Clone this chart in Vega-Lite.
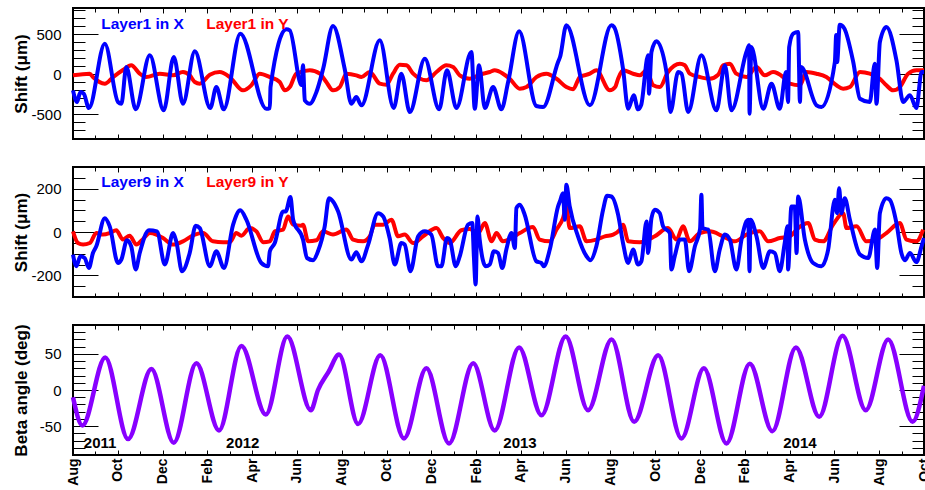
{
"$schema": "https://vega.github.io/schema/vega-lite/v6.json",
"padding": {"left": 10, "top": 6, "right": 4, "bottom": 0},
"bounds": "flush",
"config": {
  "view": {"stroke": "black", "strokeWidth": 2},
  "font": "Liberation Sans",
  "axis": {"labelFont": "Liberation Sans", "titleFont": "Liberation Sans", "labelColor": "black", "titleColor": "black", "tickColor": "black", "tickWidth": 1, "domain": false, "grid": false, "labelFlush": false, "labelOverlap": false}
},
"datasets": {
"l1x": [{"m":0,"v":-204},{"m":0.18,"v":-350},{"m":0.33,"v":-225},{"m":0.48,"v":-246},{"m":0.71,"v":-425},{"m":1.42,"v":379},{"m":2.01,"v":-350},{"m":2.16,"v":-371},{"m":2.38,"v":88},{"m":2.8,"v":-441},{"m":3.43,"v":234},{"m":4.05,"v":-454},{"m":4.5,"v":213},{"m":4.91,"v":-371},{"m":5.44,"v":284},{"m":6.13,"v":-425},{"m":6.4,"v":-163},{"m":6.73,"v":-441},{"m":7.47,"v":504},{"m":8.63,"v":-434},{"m":8.79,"v":-425},{"m":8.82,"v":-163},{"m":9.53,"v":559},{"m":9.68,"v":546},{"m":10.2,"v":-138},{"m":10.27,"v":109},{"m":10.35,"v":-329},{"m":10.57,"v":-371},{"m":10.87,"v":-225},{"m":11.17,"v":66},{"m":11.61,"v":600},{"m":12.13,"v":66},{"m":12.43,"v":-371},{"m":12.65,"v":-288},{"m":12.88,"v":-391},{"m":13.7,"v":421},{"m":14.32,"v":-425},{"m":14.66,"v":4},{"m":15.04,"v":-475},{"m":15.71,"v":191},{"m":16.35,"v":-441},{"m":16.7,"v":46},{"m":17.12,"v":-425},{"m":17.79,"v":275},{"m":17.94,"v":-434},{"m":18.13,"v":109},{"m":18.39,"v":-425},{"m":18.76,"v":-163},{"m":19.13,"v":-441},{"m":19.43,"v":-100},{"m":19.92,"v":534},{"m":20.69,"v":-400},{"m":20.99,"v":-413},{"m":21.66,"v":150},{"m":21.75,"v":213},{"m":22.03,"v":609},{"m":23.08,"v":-391},{"m":24.04,"v":609},{"m":24.16,"v":588},{"m":24.56,"v":66},{"m":24.79,"v":-434},{"m":25.04,"v":-266},{"m":25.23,"v":-441},{"m":25.37,"v":-388},{"m":25.68,"v":234},{"m":25.72,"v":-246},{"m":25.83,"v":275},{"m":26.05,"v":409},{"m":26.5,"v":25},{"m":26.68,"v":-475},{"m":27.02,"v":25},{"m":27.17,"v":4},{"m":27.47,"v":-475},{"m":28.06,"v":234},{"m":28.73,"v":-454},{"m":29.11,"v":109},{"m":29.4,"v":-454},{"m":30.07,"v":275},{"m":30.19,"v":359},{"m":30.21,"v":-496},{"m":30.29,"v":338},{"m":30.82,"v":-434},{"m":31.19,"v":-121},{"m":31.56,"v":-434},{"m":31.84,"v":25},{"m":31.93,"v":-350},{"m":31.98,"v":338},{"m":32.16,"v":504},{"m":32.38,"v":525},{"m":32.46,"v":-350},{"m":32.51,"v":88},{"m":33.2,"v":-391},{"m":33.42,"v":-413},{"m":34.02,"v":150},{"m":34.08,"v":488},{"m":34.12,"v":150},{"m":34.24,"v":616},{"m":34.43,"v":575},{"m":34.84,"v":150},{"m":35.14,"v":-309},{"m":35.58,"v":-350},{"m":35.8,"v":129},{"m":35.88,"v":-371},{"m":36.03,"v":400},{"m":36.32,"v":588},{"m":36.77,"v":171},{"m":37.07,"v":-350},{"m":37.37,"v":-266},{"m":37.66,"v":-425},{"m":37.89,"v":25},{"m":38,"v":25}],
"l1y": [{"m":0,"v":-16},{"m":0.75,"v":4},{"m":0.89,"v":-38},{"m":1.42,"v":-121},{"m":1.79,"v":-38},{"m":2.23,"v":50},{"m":2.6,"v":109},{"m":2.98,"v":4},{"m":3.27,"v":-38},{"m":3.87,"v":4},{"m":4.47,"v":-16},{"m":4.91,"v":25},{"m":5.21,"v":-16},{"m":5.44,"v":-100},{"m":5.66,"v":-121},{"m":6.11,"v":-9},{"m":6.55,"v":25},{"m":7.0,"v":-38},{"m":7.59,"v":-204},{"m":7.96,"v":-141},{"m":8.34,"v":4},{"m":8.79,"v":-38},{"m":9.23,"v":-100},{"m":9.46,"v":-204},{"m":9.68,"v":-163},{"m":9.97,"v":4},{"m":10.57,"v":46},{"m":11.02,"v":4},{"m":11.31,"v":-100},{"m":11.61,"v":-204},{"m":11.91,"v":-163},{"m":12.21,"v":4},{"m":12.65,"v":-16},{"m":12.88,"v":-38},{"m":13.25,"v":25},{"m":13.7,"v":-121},{"m":13.99,"v":-134},{"m":14.29,"v":4},{"m":14.59,"v":116},{"m":14.89,"v":109},{"m":15.19,"v":4},{"m":15.78,"v":-79},{"m":16.23,"v":25},{"m":16.67,"v":109},{"m":16.97,"v":88},{"m":17.27,"v":-16},{"m":17.72,"v":-59},{"m":18.16,"v":-9},{"m":18.61,"v":25},{"m":18.83,"v":46},{"m":19.2,"v":4},{"m":19.5,"v":-59},{"m":19.95,"v":-184},{"m":20.25,"v":-163},{"m":20.69,"v":-38},{"m":21.14,"v":4},{"m":21.59,"v":-59},{"m":22.03,"v":-163},{"m":22.33,"v":-191},{"m":22.63,"v":-38},{"m":23.08,"v":4},{"m":23.37,"v":46},{"m":23.97,"v":-204},{"m":24.21,"v":-163},{"m":24.34,"v":-59},{"m":24.56,"v":46},{"m":25.01,"v":4},{"m":25.31,"v":-16},{"m":25.61,"v":46},{"m":25.91,"v":-141},{"m":26.2,"v":-163},{"m":26.57,"v":25},{"m":27.1,"v":129},{"m":27.32,"v":109},{"m":27.54,"v":4},{"m":27.99,"v":-38},{"m":28.43,"v":-59},{"m":28.81,"v":-9},{"m":29.03,"v":109},{"m":29.33,"v":129},{"m":29.62,"v":4},{"m":30.07,"v":-38},{"m":30.52,"v":88},{"m":30.89,"v":-16},{"m":31.26,"v":25},{"m":31.71,"v":-38},{"m":32.01,"v":-121},{"m":32.46,"v":-141},{"m":32.75,"v":25},{"m":33.2,"v":4},{"m":33.64,"v":-38},{"m":34.09,"v":-141},{"m":34.39,"v":-184},{"m":34.69,"v":-163},{"m":35.14,"v":25},{"m":35.58,"v":4},{"m":36.03,"v":-59},{"m":36.32,"v":-141},{"m":36.62,"v":-204},{"m":36.92,"v":-163},{"m":37.29,"v":4},{"m":37.66,"v":46},{"m":38,"v":46}],
"l9x": [{"m":0,"v":-104},{"m":0.15,"v":-158},{"m":0.33,"v":-112},{"m":0.52,"v":-120},{"m":0.71,"v":-166},{"m":0.89,"v":-97},{"m":1.04,"v":-66},{"m":1.42,"v":64},{"m":1.64,"v":26},{"m":2.01,"v":-143},{"m":2.16,"v":-127},{"m":2.41,"v":-38},{"m":2.6,"v":-66},{"m":2.8,"v":-173},{"m":2.98,"v":-97},{"m":3.39,"v":8},{"m":3.75,"v":3},{"m":4.1,"v":-150},{"m":4.47,"v":-5},{"m":4.61,"v":-43},{"m":4.87,"v":-181},{"m":5.21,"v":-97},{"m":5.48,"v":29},{"m":5.66,"v":18},{"m":6.11,"v":-158},{"m":6.4,"v":-89},{"m":6.74,"v":-166},{"m":7.15,"v":34},{"m":7.47,"v":100},{"m":7.74,"v":57},{"m":8.41,"v":-143},{"m":8.71,"v":-158},{"m":8.79,"v":-89},{"m":9.01,"v":-51},{"m":9.38,"v":95},{"m":9.5,"v":95},{"m":9.71,"v":161},{"m":9.83,"v":57},{"m":10.27,"v":-35},{"m":10.45,"v":-120},{"m":10.72,"v":-130},{"m":10.94,"v":-89},{"m":11.24,"v":26},{"m":11.43,"v":156},{"m":11.61,"v":141},{"m":11.84,"v":95},{"m":12.43,"v":-127},{"m":12.65,"v":-93},{"m":12.88,"v":-135},{"m":13.18,"v":-58},{"m":13.62,"v":87},{"m":13.85,"v":72},{"m":14.14,"v":-28},{"m":14.37,"v":-150},{"m":14.66,"v":-51},{"m":14.81,"v":-58},{"m":15.07,"v":-181},{"m":15.41,"v":-20},{"m":15.71,"v":3},{"m":16.0,"v":-12},{"m":16.3,"v":-158},{"m":16.45,"v":-158},{"m":16.7,"v":-28},{"m":16.82,"v":-35},{"m":17.09,"v":-158},{"m":17.27,"v":-112},{"m":17.64,"v":34},{"m":17.83,"v":41},{"m":17.9,"v":-112},{"m":17.98,"v":-242},{"m":18.06,"v":72},{"m":18.16,"v":-35},{"m":18.43,"v":-158},{"m":18.61,"v":-150},{"m":18.79,"v":-89},{"m":18.98,"v":-97},{"m":19.17,"v":-166},{"m":19.35,"v":-81},{"m":19.58,"v":-5},{"m":19.73,"v":-74},{"m":19.8,"v":110},{"m":19.95,"v":126},{"m":20.17,"v":80},{"m":20.69,"v":-135},{"m":20.91,"v":-143},{"m":21.02,"v":-158},{"m":21.29,"v":-81},{"m":21.66,"v":118},{"m":21.74,"v":141},{"m":21.88,"v":179},{"m":21.96,"v":57},{"m":22.03,"v":218},{"m":22.18,"v":118},{"m":22.55,"v":-20},{"m":22.93,"v":-112},{"m":23.1,"v":-130},{"m":23.37,"v":-66},{"m":23.67,"v":103},{"m":23.85,"v":167},{"m":24.04,"v":164},{"m":24.34,"v":80},{"m":24.56,"v":-51},{"m":24.79,"v":-143},{"m":25.01,"v":-81},{"m":25.23,"v":-150},{"m":25.38,"v":-135},{"m":25.61,"v":49},{"m":25.68,"v":-97},{"m":25.83,"v":64},{"m":25.98,"v":103},{"m":26.2,"v":87},{"m":26.35,"v":26},{"m":26.65,"v":-5},{"m":26.72,"v":-173},{"m":26.87,"v":-112},{"m":27.1,"v":-35},{"m":27.32,"v":-35},{"m":27.51,"v":-181},{"m":27.77,"v":-66},{"m":28.0,"v":14},{"m":28.06,"v":172},{"m":28.11,"v":18},{"m":28.36,"v":11},{"m":28.66,"v":-181},{"m":28.88,"v":-81},{"m":29.11,"v":-12},{"m":29.33,"v":-35},{"m":29.62,"v":-173},{"m":29.85,"v":-35},{"m":30.07,"v":49},{"m":30.15,"v":57},{"m":30.21,"v":-181},{"m":30.25,"v":57},{"m":30.52,"v":-20},{"m":30.82,"v":-166},{"m":31.12,"v":-89},{"m":31.34,"v":-97},{"m":31.56,"v":-181},{"m":31.78,"v":-51},{"m":31.91,"v":26},{"m":31.93,"v":-173},{"m":32.08,"v":118},{"m":32.23,"v":118},{"m":32.31,"v":-97},{"m":32.38,"v":164},{"m":32.68,"v":-35},{"m":33.05,"v":-143},{"m":33.42,"v":-158},{"m":33.72,"v":-81},{"m":34.02,"v":149},{"m":34.12,"v":87},{"m":34.21,"v":202},{"m":34.31,"v":87},{"m":34.46,"v":156},{"m":34.69,"v":57},{"m":35.14,"v":-104},{"m":35.51,"v":-120},{"m":35.81,"v":11},{"m":35.91,"v":-166},{"m":36.03,"v":87},{"m":36.32,"v":156},{"m":36.47,"v":149},{"m":36.77,"v":41},{"m":36.99,"v":-97},{"m":37.15,"v":-130},{"m":37.37,"v":-97},{"m":37.66,"v":-139},{"m":37.89,"v":-66},{"m":38,"v":-28}],
"l9y": [{"m":0,"v":3},{"m":0.22,"v":-51},{"m":0.45,"v":-58},{"m":0.75,"v":-51},{"m":1.04,"v":-5},{"m":1.34,"v":-12},{"m":1.64,"v":-5},{"m":1.93,"v":8},{"m":2.23,"v":-35},{"m":2.53,"v":-17},{"m":2.83,"v":-58},{"m":3.13,"v":-32},{"m":3.43,"v":-5},{"m":3.72,"v":-12},{"m":4.02,"v":-28},{"m":4.47,"v":-58},{"m":4.91,"v":-43},{"m":5.44,"v":-12},{"m":5.81,"v":-5},{"m":6.25,"v":-43},{"m":6.7,"v":-47},{"m":7.0,"v":-47},{"m":7.29,"v":-5},{"m":7.52,"v":-17},{"m":7.89,"v":18},{"m":8.19,"v":3},{"m":8.49,"v":-47},{"m":8.79,"v":-43},{"m":9.01,"v":3},{"m":9.38,"v":11},{"m":9.6,"v":72},{"m":9.83,"v":34},{"m":10.2,"v":29},{"m":10.27,"v":34},{"m":10.5,"v":-43},{"m":10.87,"v":-38},{"m":11.17,"v":3},{"m":11.61,"v":-12},{"m":12.21,"v":11},{"m":12.51,"v":-35},{"m":12.95,"v":-43},{"m":13.25,"v":-20},{"m":13.47,"v":34},{"m":13.85,"v":34},{"m":14.22,"v":57},{"m":14.52,"v":-20},{"m":14.81,"v":-12},{"m":15.19,"v":-51},{"m":15.63,"v":-20},{"m":16.23,"v":18},{"m":16.53,"v":-28},{"m":16.82,"v":-51},{"m":17.34,"v":8},{"m":17.72,"v":14},{"m":18.09,"v":-5},{"m":18.39,"v":41},{"m":18.69,"v":-43},{"m":18.91,"v":-5},{"m":19.2,"v":-43},{"m":19.58,"v":-28},{"m":19.95,"v":-5},{"m":20.54,"v":23},{"m":20.84,"v":-35},{"m":21.29,"v":-43},{"m":21.59,"v":11},{"m":21.88,"v":64},{"m":22.03,"v":118},{"m":22.18,"v":18},{"m":22.63,"v":26},{"m":22.93,"v":-43},{"m":23.37,"v":-35},{"m":23.75,"v":-20},{"m":24.12,"v":-12},{"m":24.42,"v":11},{"m":24.56,"v":34},{"m":24.79,"v":-43},{"m":25.31,"v":-47},{"m":25.98,"v":-20},{"m":26.57,"v":18},{"m":26.95,"v":-35},{"m":27.24,"v":26},{"m":27.54,"v":-43},{"m":27.99,"v":-5},{"m":28.43,"v":3},{"m":29.03,"v":-20},{"m":29.55,"v":-43},{"m":30.07,"v":-12},{"m":30.67,"v":3},{"m":31.04,"v":-43},{"m":31.56,"v":-28},{"m":32.01,"v":-20},{"m":32.38,"v":18},{"m":32.83,"v":41},{"m":33.13,"v":-35},{"m":33.5,"v":-43},{"m":33.94,"v":34},{"m":34.39,"v":87},{"m":34.54,"v":18},{"m":34.99,"v":26},{"m":35.43,"v":-43},{"m":35.88,"v":-35},{"m":36.32,"v":-5},{"m":36.92,"v":41},{"m":37.22,"v":-35},{"m":37.66,"v":-43},{"m":37.96,"v":11}],
"beta": [{"m":0,"v":-10},{"m":0.42,"v":-49},{"m":1.44,"v":45},{"m":2.46,"v":-68},{"m":3.5,"v":29},{"m":4.5,"v":-73},{"m":5.51,"v":37},{"m":6.52,"v":-56},{"m":7.52,"v":61},{"m":8.61,"v":-34},{"m":9.57,"v":74},{"m":10.62,"v":-28},{"m":10.94,"v":0},{"m":11.41,"v":25},{"m":11.88,"v":49},{"m":12.73,"v":-47},{"m":13.72,"v":48},{"m":14.78,"v":-67},{"m":15.78,"v":30},{"m":16.79,"v":-74},{"m":17.87,"v":37},{"m":18.83,"v":-56},{"m":19.92,"v":59},{"m":20.92,"v":-35},{"m":22.0,"v":74},{"m":23.0,"v":-28},{"m":24.05,"v":70},{"m":25.06,"v":-44},{"m":26.13,"v":48},{"m":27.17,"v":-67},{"m":28.17,"v":30},{"m":29.18,"v":-74},{"m":30.22,"v":36.5},{"m":31.23,"v":-57},{"m":32.28,"v":59},{"m":33.32,"v":-37},{"m":34.36,"v":75},{"m":35.4,"v":-28},{"m":36.4,"v":70},{"m":37.49,"v":-44},{"m":38,"v":6}],
"years": [{"year":"2011","m":1.21},{"year":"2012","m":7.58},{"year":"2013","m":19.96},{"year":"2014","m":32.46}]
},
"spacing": 28,
"vconcat": [
{
 "width": 851, "height": 131,
 "layer": [
  {"data": {"name": "l1y"}, "mark": {"type": "line", "color": "#ff0000", "strokeWidth": 4, "interpolate": "monotone"},
   "encoding": {
    "x": {"field": "m", "type": "quantitative", "scale": {"domain": [0, 38], "nice": false, "zero": false},
          "axis": {"orient": "bottom", "values": [0,1,2,3,4,5,6,7,8,9,10,11,12,13,14,15,16,17,18,19,20,21,22,23,24,25,26,27,28,29,30,31,32,33,34,35,36,37,38], "labels": false, "title": null, "tickSize": {"condition": {"test": "datum.value % 2 === 0", "value": -5}, "value": -4}}},
    "y": {"field": "v", "type": "quantitative", "scale": {"domain": [-812, 825], "nice": false, "zero": false},
          "axis": {"orient": "left", "values": [-800,-700,-600,-500,-400,-300,-200,-100,0,100,200,300,400,500,600,700,800], "labelExpr": "datum.value % 500 === 0 ? '' + datum.value : ''", "labelFontSize": {"condition": {"test": "datum.value % 500 === 0", "value": 15}, "value": 0}, "labelPadding": 37, "tickSize": {"condition": {"test": "datum.value % 500 === 0", "value": -25}, "value": -12}, "title": "Shift (μm)", "titleFontSize": 17, "titleFontWeight": "bold", "titleX": -47, "titleY": 65.5, "titleAngle": -90, "titleAlign": "center", "titleBaseline": "alphabetic"}}
   }},
  {"data": {"name": "l1x"}, "mark": {"type": "line", "color": "#0000ff", "strokeWidth": 4, "interpolate": "monotone"},
   "encoding": {
    "x": {"field": "m", "type": "quantitative", "scale": {"domain": [0, 38], "nice": false, "zero": false},
          "axis": {"orient": "top", "values": [0,1,2,3,4,5,6,7,8,9,10,11,12,13,14,15,16,17,18,19,20,21,22,23,24,25,26,27,28,29,30,31,32,33,34,35,36,37,38], "labels": false, "title": null, "tickSize": {"condition": {"test": "datum.value % 2 === 0", "value": -5}, "value": -4}}},
    "y": {"field": "v", "type": "quantitative", "scale": {"domain": [-812, 825], "nice": false, "zero": false},
          "axis": {"orient": "right", "values": [-800,-700,-600,-500,-400,-300,-200,-100,0,100,200,300,400,500,600,700,800], "labels": false, "title": null, "tickSize": {"condition": {"test": "datum.value % 500 === 0", "value": -25}, "value": -12}}}
   }},
  {"data": {"values": [{}]}, "mark": {"type": "text", "text": "Layer1 in X", "color": "#0000ff", "font": "Liberation Sans", "fontWeight": "bold", "fontSize": 15.5, "align": "left", "baseline": "alphabetic"},
   "encoding": {"x": {"datum": 1.26, "type": "quantitative", "axis": null, "scale": {"domain": [0, 38], "nice": false, "zero": false}}, "y": {"datum": 566, "type": "quantitative", "axis": null, "scale": {"domain": [-812, 825], "nice": false, "zero": false}}}},
  {"data": {"values": [{}]}, "mark": {"type": "text", "text": "Layer1 in Y", "color": "#ff0000", "font": "Liberation Sans", "fontWeight": "bold", "fontSize": 15.5, "align": "left", "baseline": "alphabetic"},
   "encoding": {"x": {"datum": 5.95, "type": "quantitative", "axis": null, "scale": {"domain": [0, 38], "nice": false, "zero": false}}, "y": {"datum": 566, "type": "quantitative", "axis": null, "scale": {"domain": [-812, 825], "nice": false, "zero": false}}}}
 ],
 "resolve": {"axis": {"x": "independent", "y": "independent"}}
},
{
 "width": 851, "height": 130,
 "layer": [
  {"data": {"name": "l9y"}, "mark": {"type": "line", "color": "#ff0000", "strokeWidth": 4, "interpolate": "monotone"},
   "encoding": {
    "x": {"field": "m", "type": "quantitative", "scale": {"domain": [0, 38], "nice": false, "zero": false},
          "axis": {"orient": "bottom", "values": [0,1,2,3,4,5,6,7,8,9,10,11,12,13,14,15,16,17,18,19,20,21,22,23,24,25,26,27,28,29,30,31,32,33,34,35,36,37,38], "labels": false, "title": null, "tickSize": {"condition": {"test": "datum.value % 2 === 0", "value": -5}, "value": -4}}},
    "y": {"field": "v", "type": "quantitative", "scale": {"domain": [-300, 300], "nice": false, "zero": false},
          "axis": {"orient": "left", "values": [-250,-200,-150,-100,-50,0,50,100,150,200,250], "labelExpr": "datum.value % 200 === 0 ? '' + datum.value : ''", "labelFontSize": {"condition": {"test": "datum.value % 200 === 0", "value": 15}, "value": 0}, "labelPadding": 37, "tickSize": {"condition": {"test": "datum.value % 200 === 0", "value": -25}, "value": -12}, "title": "Shift (μm)", "titleFontSize": 17, "titleFontWeight": "bold", "titleX": -47, "titleY": 65, "titleAngle": -90, "titleAlign": "center", "titleBaseline": "alphabetic"}}
   }},
  {"data": {"name": "l9x"}, "mark": {"type": "line", "color": "#0000ff", "strokeWidth": 4, "interpolate": "monotone"},
   "encoding": {
    "x": {"field": "m", "type": "quantitative", "scale": {"domain": [0, 38], "nice": false, "zero": false},
          "axis": {"orient": "top", "values": [0,1,2,3,4,5,6,7,8,9,10,11,12,13,14,15,16,17,18,19,20,21,22,23,24,25,26,27,28,29,30,31,32,33,34,35,36,37,38], "labels": false, "title": null, "tickSize": {"condition": {"test": "datum.value % 2 === 0", "value": -5}, "value": -4}}},
    "y": {"field": "v", "type": "quantitative", "scale": {"domain": [-300, 300], "nice": false, "zero": false},
          "axis": {"orient": "right", "values": [-250,-200,-150,-100,-50,0,50,100,150,200,250], "labels": false, "title": null, "tickSize": {"condition": {"test": "datum.value % 200 === 0", "value": -25}, "value": -12}}}
   }},
  {"data": {"values": [{}]}, "mark": {"type": "text", "text": "Layer9 in X", "color": "#0000ff", "font": "Liberation Sans", "fontWeight": "bold", "fontSize": 15.5, "align": "left", "baseline": "alphabetic"},
   "encoding": {"x": {"datum": 1.26, "type": "quantitative", "axis": null, "scale": {"domain": [0, 38], "nice": false, "zero": false}}, "y": {"datum": 206, "type": "quantitative", "axis": null, "scale": {"domain": [-300, 300], "nice": false, "zero": false}}}},
  {"data": {"values": [{}]}, "mark": {"type": "text", "text": "Layer9 in Y", "color": "#ff0000", "font": "Liberation Sans", "fontWeight": "bold", "fontSize": 15.5, "align": "left", "baseline": "alphabetic"},
   "encoding": {"x": {"datum": 5.95, "type": "quantitative", "axis": null, "scale": {"domain": [0, 38], "nice": false, "zero": false}}, "y": {"datum": 206, "type": "quantitative", "axis": null, "scale": {"domain": [-300, 300], "nice": false, "zero": false}}}}
 ],
 "resolve": {"axis": {"x": "independent", "y": "independent"}}
},
{
 "width": 851, "height": 130,
 "layer": [
  {"data": {"name": "beta"}, "mark": {"type": "line", "color": "#8800ff", "strokeWidth": 4.5, "interpolate": "monotone"},
   "encoding": {
    "x": {"field": "m", "type": "quantitative", "scale": {"domain": [0, 38], "nice": false, "zero": false},
          "axis": {"orient": "bottom", "values": [0,1,2,3,4,5,6,7,8,9,10,11,12,13,14,15,16,17,18,19,20,21,22,23,24,25,26,27,28,29,30,31,32,33,34,35,36,37,38], "labelExpr": "datum.value % 2 === 0 ? ['Aug','Sep','Oct','Nov','Dec','Jan','Feb','Mar','Apr','May','Jun','Jul'][datum.value % 12] : ''", "labelAngle": -90, "labelAlign": "right", "labelBaseline": "middle", "labelFontSize": {"condition": {"test": "datum.value % 2 === 0", "value": 14}, "value": 0}, "labelFontWeight": "bold", "labelPadding": 8, "title": null, "tickSize": {"condition": {"test": "datum.value % 2 === 0", "value": -5}, "value": -4}}},
    "y": {"field": "v", "type": "quantitative", "scale": {"domain": [-90, 90], "nice": false, "zero": false},
          "axis": {"orient": "left", "values": [-80,-70,-60,-50,-40,-30,-20,-10,0,10,20,30,40,50,60,70,80], "labelExpr": "datum.value % 50 === 0 ? '' + datum.value : ''", "labelFontSize": {"condition": {"test": "datum.value % 50 === 0", "value": 15}, "value": 0}, "labelPadding": 37, "tickSize": {"condition": {"test": "datum.value % 50 === 0", "value": -25}, "value": -12}, "title": "Beta angle (deg)", "titleFontSize": 17, "titleFontWeight": "bold", "titleX": -47, "titleY": 65, "titleAngle": -90, "titleAlign": "center", "titleBaseline": "alphabetic"}}
   }},
  {"data": {"name": "beta"}, "mark": {"type": "line", "opacity": 0, "strokeWidth": 0},
   "encoding": {
    "x": {"field": "m", "type": "quantitative", "scale": {"domain": [0, 38], "nice": false, "zero": false},
          "axis": {"orient": "top", "values": [0,1,2,3,4,5,6,7,8,9,10,11,12,13,14,15,16,17,18,19,20,21,22,23,24,25,26,27,28,29,30,31,32,33,34,35,36,37,38], "labels": false, "title": null, "tickSize": {"condition": {"test": "datum.value % 2 === 0", "value": -5}, "value": -4}}},
    "y": {"field": "v", "type": "quantitative", "scale": {"domain": [-90, 90], "nice": false, "zero": false},
          "axis": {"orient": "right", "values": [-80,-70,-60,-50,-40,-30,-20,-10,0,10,20,30,40,50,60,70,80], "labels": false, "title": null, "tickSize": {"condition": {"test": "datum.value % 50 === 0", "value": -25}, "value": -12}}}
   }},
  {"data": {"name": "years"}, "mark": {"type": "text", "color": "black", "font": "Liberation Sans", "fontWeight": "bold", "fontSize": 15, "align": "center", "baseline": "alphabetic"},
   "encoding": {"x": {"field": "m", "type": "quantitative", "axis": null, "scale": {"domain": [0, 38], "nice": false, "zero": false}}, "y": {"datum": -80, "type": "quantitative", "axis": null, "scale": {"domain": [-90, 90], "nice": false, "zero": false}}, "text": {"field": "year", "type": "nominal"}}}
 ],
 "resolve": {"axis": {"x": "independent", "y": "independent"}}
}
]
}
